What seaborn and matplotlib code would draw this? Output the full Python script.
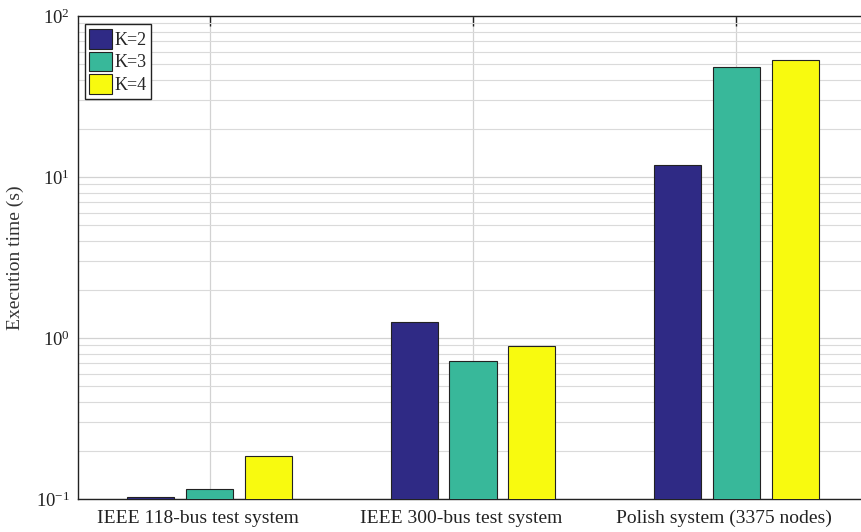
import matplotlib
matplotlib.use("Agg")
import matplotlib.pyplot as plt
import matplotlib.transforms as mtransforms
from matplotlib.ticker import LogLocator, LogFormatterSciNotation, NullFormatter
import seaborn as sns
import pandas as pd

systems = ["IEEE 118-bus test system", "IEEE 300-bus test system", "Polish system (3375 nodes)"]
k_labels = ["K=2", "K=3", "K=4"]
time_k2 = [0.103, 1.26, 11.9]
time_k3 = [0.115, 0.72, 48.5]
time_k4 = [0.185, 0.89, 53.5]
colors = ["#2f2a85", "#38b89a", "#f8fa0f"]

df = pd.DataFrame({
    "system": systems * 3,
    "K": [k for k in k_labels for _ in systems],
    "time": time_k2 + time_k3 + time_k4,
})

sns.set_style("white")
plt.rcParams["font.family"] = ["Liberation Serif", "DejaVu Serif"]
plt.rcParams["mathtext.fontset"] = "custom"
plt.rcParams["mathtext.rm"] = "Liberation Serif"
plt.rcParams["mathtext.it"] = "Liberation Serif:italic"

fig = plt.figure(figsize=(8.61, 5.32), dpi=100)
ax = fig.add_axes([78 / 861, 33 / 532, 790 / 861, 483 / 532])

sns.barplot(data=df, x="system", y="time", hue="K", order=systems, hue_order=k_labels,
            palette=colors, saturation=1, width=0.67, gap=0.2, edgecolor="#222222",
            linewidth=0.8, ax=ax, errorbar=None, zorder=3)

ax.set_yscale("log")
ax.set_xlim(-0.5, 2.5)
ax.set_ylim(0.1, 100)

ax.yaxis.set_major_locator(LogLocator(base=10, numticks=10))
ax.yaxis.set_minor_locator(LogLocator(base=10, subs=range(2, 10), numticks=20))
ax.yaxis.set_major_formatter(LogFormatterSciNotation())
ax.yaxis.set_minor_formatter(NullFormatter())

ax.grid(True, which="major", axis="both", color="#d2d2d2", linewidth=0.9, zorder=0)
ax.grid(True, which="minor", axis="y", color="#dadada", linewidth=0.8, zorder=0)
ax.set_axisbelow(True)

for side in ["left", "bottom", "top", "right"]:
    ax.spines[side].set_visible(True)
    ax.spines[side].set_color("#222222")
    ax.spines[side].set_linewidth(1.0)

ax.tick_params(axis="both", which="major", direction="in", length=7, width=1.0,
               top=True, right=False, labelsize=13.5, colors="#222222")
ax.tick_params(axis="y", which="minor", direction="in", length=4, width=0.9, right=False)
ax.tick_params(axis="x", which="major", pad=8, labelsize=14)
ax.tick_params(axis="y", which="major", pad=6)

shift = mtransforms.ScaledTranslation(-12 / 100, 0, fig.dpi_scale_trans)
for lbl in ax.get_xticklabels():
    lbl.set_transform(lbl.get_transform() + shift)

ax.set_xlabel("")
ax.set_ylabel("Execution time (s)", fontsize=14, color="#333333", labelpad=8)

leg = ax.legend(loc="upper left", bbox_to_anchor=(0.004, 0.99), fontsize=13,
                frameon=True, fancybox=False, edgecolor="#222222", framealpha=1,
                handlelength=1.25, handleheight=1.3, handletextpad=0.15,
                borderpad=0.25, labelspacing=0.15, borderaxespad=0.2, title=None)
leg.get_frame().set_linewidth(1.0)

fig.savefig("out.png", dpi=100)
